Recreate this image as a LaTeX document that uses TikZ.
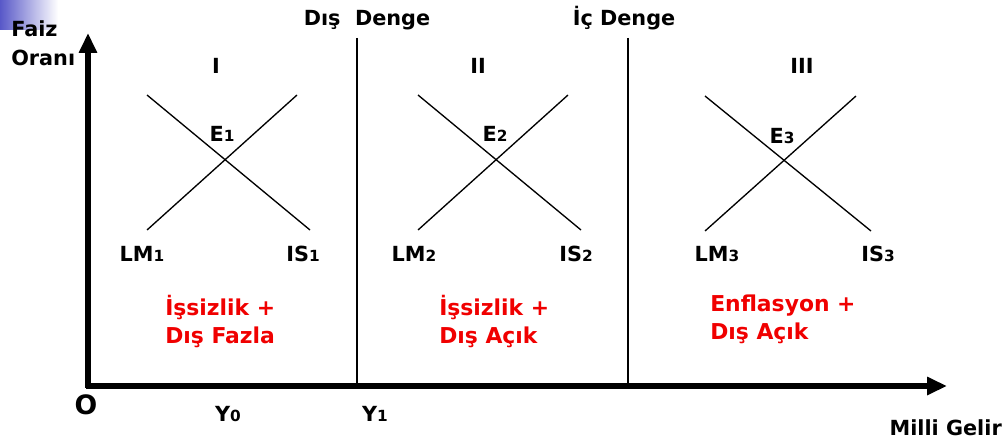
\documentclass[tikz,border=0pt]{standalone}
\usepackage{fontspec}
\setmainfont{DejaVu Sans}
\usetikzlibrary{arrows.meta}
\definecolor{corner}{RGB}{88,88,200}
\definecolor{redtxt}{RGB}{240,0,0}
\newcommand{\subn}[1]{{\fontsize{11.5pt}{13pt}\selectfont #1}}
\begin{document}
\begin{tikzpicture}[x=0.75pt,y=-0.75pt,
  lbl/.style={font=\bfseries\fontsize{15.6pt}{18pt}\selectfont, inner sep=0pt},
  redlbl/.style={font=\bfseries\fontsize{16.4pt}{21pt}\selectfont, text=redtxt, align=left, inner sep=0pt},
  axis/.style={line width=3.8pt, -{Triangle[length=15pt,width=13pt]}},
  thin/.style={line width=1.1pt},
  curve/.style={line width=1pt}]
\useasboundingbox (0,0) rectangle (1005,442);
\shade[left color=corner, right color=white, shading angle=90] (0,0) rectangle (58,30);
% axes
\coordinate (O) at (88,386);
\coordinate (ytip) at (88,33);
\coordinate (xtip) at (947,386);
\draw[axis] (O) ++(0,1.5) -- (ytip);
\draw[axis] (O) ++(-2.5,0) -- (xtip);
% vertical lines
\coordinate (d1t) at (357,38); \coordinate (d1b) at (357,386);
\coordinate (d2t) at (628,38); \coordinate (d2b) at (628,386);
\draw[thin] (d1t) -- (d1b);
\draw[thin] (d2t) -- (d2b);
% labels top
\node[lbl, anchor=west] (faiz) at (11,29) {Faiz};
\node[lbl, anchor=west] (orani) at (11,58) {Oranı};
\node[lbl, anchor=south] (dis) at (367,30) {Dış\ \ Denge};
\node[lbl, anchor=south] (ic) at (624,30) {İç Denge};
\node[lbl] (r1) at (216,66) {I};
\node[lbl] (r2) at (478,66) {II};
\node[lbl] (r3) at (802,66) {III};
% panel I
\coordinate (a1) at (147,95); \coordinate (b1) at (310,230);
\coordinate (c1) at (147,230); \coordinate (d1) at (297,95);
\draw[curve] (a1) -- (b1);
\draw[curve] (c1) -- (d1);
\node[lbl] (e1) at (222,134) {E\subn{1}};
\node[lbl] (lm1) at (142,254) {LM\subn{1}};
\node[lbl] (is1) at (303,254) {IS\subn{1}};
% panel II
\coordinate (a2) at (418,95); \coordinate (b2) at (581,230);
\coordinate (c2) at (418,230); \coordinate (d2) at (568,95);
\draw[curve] (a2) -- (b2);
\draw[curve] (c2) -- (d2);
\node[lbl] (e2) at (495,134) {E\subn{2}};
\node[lbl] (lm2) at (414,254) {LM\subn{2}};
\node[lbl] (is2) at (576,254) {IS\subn{2}};
% panel III
\coordinate (a3) at (705,96); \coordinate (b3) at (871,231);
\coordinate (c3) at (705,231); \coordinate (d3) at (856,96);
\draw[curve] (a3) -- (b3);
\draw[curve] (c3) -- (d3);
\node[lbl] (e3) at (782,136) {E\subn{3}};
\node[lbl] (lm3) at (717,254) {LM\subn{3}};
\node[lbl] (is3) at (878,254) {IS\subn{3}};
% red texts
\node[redlbl, anchor=north west] (t1) at (165,295) {İşsizlik +\\Dış Fazla};
\node[redlbl, anchor=north west] (t2) at (439,295) {İşsizlik +\\Dış Açık};
\node[redlbl, anchor=north west] (t3) at (710,295) {Enflasyon +\\Dış Açık};
% bottom labels
\node[lbl, font=\bfseries\fontsize{20pt}{22pt}\selectfont] (o) at (86,405) {O};
\node[lbl] (y0) at (228,414) {Y\subn{0}};
\node[lbl] (y1) at (375,414) {Y\subn{1}};
\node[lbl, anchor=east] (mg) at (1002,428) {Milli Gelir};
\end{tikzpicture}
\end{document}
